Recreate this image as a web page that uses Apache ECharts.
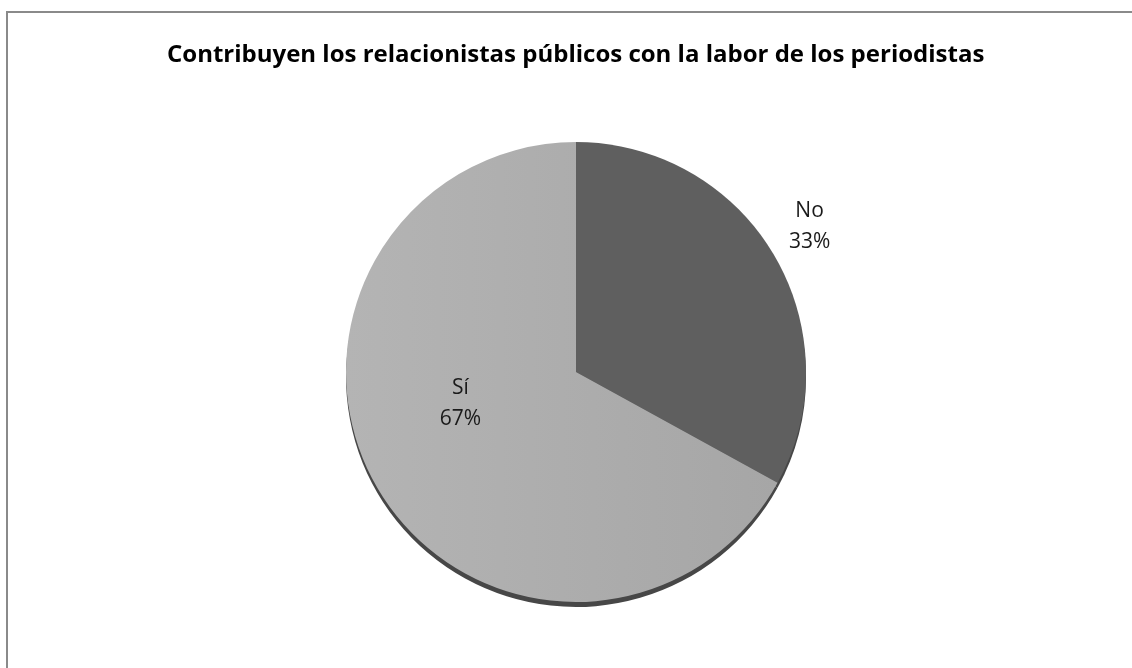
<!DOCTYPE html>
<html>
<head>
<meta charset="utf-8">
<style>
  html, body { margin: 0; padding: 0; background: #ffffff; }
  #chart { width: 1132px; height: 668px; }
</style>
<script src="https://cdn.jsdelivr.net/npm/echarts@6/dist/echarts.min.js"></script>
</head>
<body>
<div id="chart"></div>
<script>
// Survey answers and their shares (percent)
const categories = ['No', 'Sí'];
const shares = [33, 67];
const chartTitle = 'Contribuyen los relacionistas públicos con la labor de los periodistas';

const FONT = '"Open Sans", "Liberation Sans", sans-serif';

const sliceColors = {
  'No': '#5f5f5f',
  'Sí': new echarts.graphic.LinearGradient(0, 0, 1, 0, [
    { offset: 0, color: '#b4b4b4' },
    { offset: 1, color: '#a6a6a6' }
  ])
};

// Label nudges relative to the default inside position
const labelNudge = {
  'No': { dx: 132, dy: -85 },
  'Sí': { dx: -14, dy: -29 }
};

const pieData = categories.map((name, i) => ({
  name: name,
  value: shares[i],
  itemStyle: { color: sliceColors[name] }
}));

const shadowData = categories.map((name, i) => ({
  name: name,
  value: shares[i]
}));

const chart = echarts.init(document.getElementById('chart'));

chart.setOption({
  backgroundColor: '#ffffff',
  animation: false,
  title: {
    text: chartTitle,
    left: 162,
    top: 38,
    textStyle: {
      fontFamily: FONT,
      fontSize: 24,
      fontWeight: 'bold',
      color: '#000000'
    }
  },
  graphic: [{
    type: 'rect',
    shape: { x: 7, y: 12, width: 1140, height: 680 },
    style: { fill: 'none', stroke: '#8a8a8a', lineWidth: 2 },
    silent: true
  }],
  series: [
    {
      // thin dark rim under the disc
      type: 'pie',
      center: [576, 377],
      radius: 230,
      silent: true,
      startAngle: 90,
      clockwise: true,
      label: { show: false },
      labelLine: { show: false },
      itemStyle: { color: '#474747', borderWidth: 0 },
      data: shadowData,
      z: 1
    },
    {
      type: 'pie',
      center: [576, 372],
      radius: 230,
      startAngle: 90,
      clockwise: true,
      silent: true,
      itemStyle: { borderWidth: 0 },
      label: {
        show: true,
        position: 'inside',
        formatter: p => p.name + '\n' + Math.round(p.percent) + '%',
        fontFamily: FONT,
        fontSize: 21,
        lineHeight: 31,
        color: '#1a1a1a',
        align: 'center'
      },
      labelLine: { show: false },
      labelLayout: params => {
        const n = labelNudge[categories[params.dataIndex]];
        return { dx: n.dx, dy: n.dy };
      },
      data: pieData,
      z: 2
    }
  ]
});
</script>
</body>
</html>
